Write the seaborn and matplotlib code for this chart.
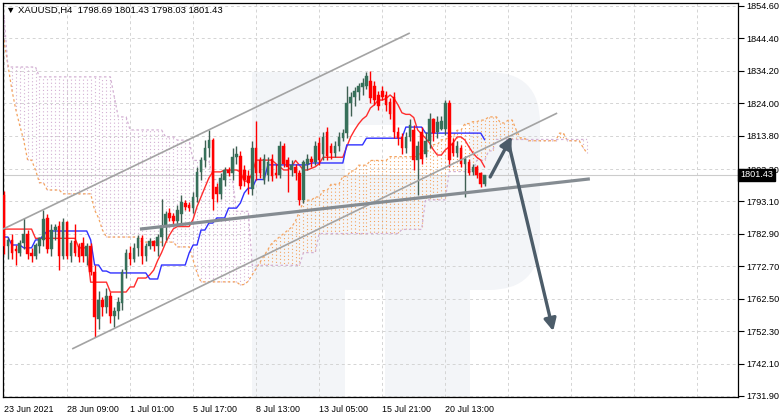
import numpy as np
import seaborn as sns
import matplotlib.pyplot as plt
from matplotlib.patches import Rectangle, FancyBboxPatch
from matplotlib.transforms import blended_transform_factory

sns.set_theme(style="white")
plt.rcParams['font.family'] = ['Liberation Sans', 'DejaVu Sans']

# XAUUSD H4 candles (open, high, low, close)
opens = [1795.0, 1779.0, 1781.0, 1778.0, 1777.0, 1780.0, 1783.0, 1777.0, 1776.0, 1779.0,
         1781.0, 1788.0, 1778.0, 1784.0, 1785.5, 1776.0, 1786.5, 1776.0, 1780.5, 1779.0,
         1780.0, 1776.0, 1779.0, 1771.0, 1756.0, 1762.0, 1760.0, 1763.5, 1757.0, 1758.5,
         1761.0, 1771.5, 1777.0, 1775.0, 1778.5, 1781.5, 1776.0, 1779.0, 1780.5, 1779.0,
         1782.0, 1785.0, 1789.5, 1788.5, 1787.0, 1789.0, 1792.5, 1792.0, 1791.0, 1794.5,
         1802.5, 1806.0, 1810.0, 1812.5, 1797.5, 1795.5, 1800.0, 1803.0, 1802.0, 1807.0,
         1807.5, 1803.0, 1801.0, 1797.0, 1810.0, 1806.0, 1800.0, 1801.5, 1806.5, 1802.0,
         1801.5, 1810.5, 1806.0, 1803.0, 1804.0, 1802.0, 1793.5, 1805.0, 1806.5, 1805.5,
         1811.5, 1808.0, 1815.0, 1810.5, 1808.5, 1810.5, 1813.0, 1814.5, 1824.0, 1826.0,
         1827.5, 1829.0, 1829.5, 1831.0, 1829.5, 1826.5, 1828.0, 1826.5, 1824.5, 1826.0,
         1815.0, 1813.5, 1810.0, 1813.5, 1815.5, 1806.0, 1815.0, 1808.0, 1812.0, 1819.0,
         1815.0, 1816.0, 1816.0, 1824.0, 1811.5, 1808.5, 1810.0, 1805.0, 1805.5, 1802.5,
         1803.8, 1802.0, 1798.69]
highs = [1796.5, 1782.0, 1783.0, 1779.5, 1781.0, 1788.0, 1784.0, 1778.5, 1780.0, 1782.0,
         1790.5, 1789.0, 1786.0, 1786.0, 1787.0, 1788.0, 1787.0, 1781.0, 1786.0, 1780.0,
         1782.0, 1780.0, 1780.0, 1773.0, 1765.0, 1763.0, 1766.0, 1764.5, 1760.0, 1763.0,
         1772.0, 1778.0, 1779.0, 1780.0, 1782.5, 1782.5, 1780.0, 1781.5, 1781.0, 1783.0,
         1794.0, 1790.0, 1791.0, 1789.5, 1792.0, 1795.0, 1793.5, 1793.0, 1796.0, 1804.0,
         1807.0, 1812.5, 1815.5, 1813.0, 1799.0, 1802.0, 1804.0, 1804.0, 1810.0, 1810.5,
         1809.0, 1804.5, 1803.0, 1812.0, 1818.5, 1807.0, 1808.0, 1807.0, 1808.0, 1805.0,
         1812.0, 1811.5, 1807.0, 1806.0, 1805.0, 1803.0, 1806.0, 1808.0, 1807.5, 1812.0,
         1813.5, 1815.0, 1816.5, 1811.5, 1812.0, 1815.0, 1816.0, 1829.5, 1827.5, 1829.0,
         1830.5, 1832.0, 1833.8, 1834.0, 1831.0, 1828.0, 1829.5, 1828.0, 1825.5, 1827.5,
         1816.5, 1814.5, 1815.0, 1819.0, 1817.0, 1812.0, 1816.5, 1815.0, 1821.0, 1819.5,
         1820.0, 1820.0, 1825.0, 1825.0, 1813.0, 1812.0, 1811.0, 1807.5, 1806.5, 1805.0,
         1804.5, 1802.5, 1801.43]
lows = [1776.5, 1775.0, 1775.0, 1773.0, 1776.0, 1778.0, 1775.0, 1774.0, 1775.0, 1777.0,
        1779.0, 1777.0, 1776.0, 1781.0, 1771.5, 1775.0, 1775.0, 1774.0, 1776.0, 1774.0,
        1774.0, 1773.0, 1770.0, 1750.4, 1753.0, 1757.0, 1758.0, 1755.0, 1753.6, 1756.0,
        1759.0, 1769.0, 1773.0, 1774.0, 1776.0, 1773.5, 1774.5, 1778.0, 1777.5, 1776.0,
        1779.0, 1781.0, 1787.0, 1786.0, 1785.5, 1786.0, 1790.5, 1790.0, 1789.5, 1793.0,
        1800.0, 1804.0, 1807.0, 1790.5, 1793.0, 1794.0, 1798.0, 1801.0, 1800.0, 1805.0,
        1797.0, 1798.0, 1795.5, 1795.0, 1800.0, 1800.5, 1798.5, 1799.5, 1799.5, 1800.5,
        1800.5, 1804.0, 1796.0, 1801.0, 1800.0, 1792.0, 1792.5, 1803.0, 1804.0, 1804.5,
        1804.5, 1806.0, 1806.0, 1806.5, 1807.0, 1809.0, 1812.0, 1813.0, 1820.0, 1823.0,
        1825.0, 1826.5, 1828.5, 1824.0, 1823.5, 1822.0, 1825.0, 1821.5, 1819.0, 1813.0,
        1811.0, 1808.0, 1808.5, 1812.0, 1803.0, 1795.0, 1805.0, 1807.0, 1810.0, 1812.0,
        1813.0, 1815.5, 1814.0, 1804.0, 1807.5, 1807.0, 1804.0, 1794.5, 1801.5, 1801.5,
        1800.5, 1797.5, 1798.03]
closes = [1779.0, 1781.0, 1777.0, 1777.5, 1780.0, 1783.0, 1776.5, 1776.0, 1779.5, 1781.5,
          1787.5, 1778.0, 1784.0, 1785.0, 1776.0, 1786.5, 1776.0, 1780.0, 1777.0, 1775.5,
          1776.0, 1779.0, 1771.0, 1756.7, 1762.0, 1760.0, 1763.5, 1757.0, 1758.5, 1761.5,
          1771.0, 1777.0, 1775.0, 1778.5, 1781.5, 1776.0, 1779.0, 1780.5, 1779.0, 1782.0,
          1785.5, 1789.0, 1788.0, 1787.0, 1790.5, 1793.0, 1791.5, 1791.0, 1794.5, 1802.5,
          1806.0, 1810.0, 1812.5, 1794.0, 1795.5, 1800.5, 1803.0, 1802.0, 1807.0, 1808.0,
          1798.0, 1800.0, 1799.0, 1810.0, 1802.0, 1802.0, 1806.5, 1805.5, 1801.0, 1801.5,
          1810.5, 1805.0, 1804.0, 1804.5, 1802.0, 1793.5, 1805.5, 1806.5, 1805.5, 1810.5,
          1806.0, 1813.5, 1807.5, 1808.5, 1810.5, 1813.5, 1814.5, 1824.0, 1826.0, 1828.0,
          1829.5, 1830.5, 1832.5, 1825.5, 1825.0, 1823.0, 1826.0, 1823.5, 1820.5, 1815.0,
          1813.0, 1810.0, 1813.5, 1817.0, 1806.0, 1810.5, 1806.5, 1812.0, 1819.0, 1814.5,
          1818.0, 1818.5, 1824.0, 1806.0, 1808.5, 1810.5, 1805.0, 1806.5, 1802.0, 1803.8,
          1801.5, 1798.5, 1801.43]

# Ichimoku lines, stored as (level, number of bars) runs
tenkan_runs = [(1784.4, 8), (1781.5, 11), (1778.5, 3), (1767.7, 5), (1764.6, 5), (1766.2, 2),
               (1769.0, 3), (1770.0, 1), (1771.5, 1), (1774.5, 1), (1777.0, 1), (1780.0, 1),
               (1782.5, 1), (1784.5, 1), (1785.2, 4), (1787.5, 1), (1791.5, 1), (1794.5, 1),
               (1797.5, 1), (1800.5, 1), (1802.4, 3), (1803.0, 4), (1802.4, 1), (1799.5, 2),
               (1802.0, 1), (1806.1, 5), (1805.0, 1), (1804.0, 1), (1803.0, 2), (1804.0, 1),
               (1806.0, 1), (1804.5, 1), (1803.0, 2), (1803.5, 1), (1804.0, 1), (1805.0, 1),
               (1807.0, 6), (1810.3, 1), (1813.4, 1), (1815.6, 1), (1817.5, 1), (1819.0, 1),
               (1820.0, 1), (1822.5, 1), (1823.5, 1), (1825.0, 2), (1825.5, 1), (1826.6, 1),
               (1825.5, 1), (1823.5, 1), (1821.0, 1), (1820.5, 2), (1819.5, 1), (1815.6, 1),
               (1814.3, 1), (1813.0, 1), (1811.5, 1), (1809.3, 1), (1807.7, 2), (1809.3, 1),
               (1810.3, 1), (1811.5, 1), (1813.4, 2), (1812.4, 1), (1810.3, 1), (1808.4, 1),
               (1807.0, 1), (1806.1, 1), (1803.9, 1)]
kijun_runs = [(1781.9, 2), (1779.4, 3), (1778.5, 3), (1781.0, 2), (1782.5, 1), (1783.8, 11),
              (1781.0, 1), (1773.1, 2), (1771.2, 2), (1770.6, 10), (1768.7, 3), (1773.1, 7),
              (1776.9, 1), (1779.4, 2), (1784.1, 2), (1786.3, 2), (1787.9, 3), (1791.0, 3),
              (1792.6, 1), (1795.8, 1), (1797.3, 2), (1800.0, 3), (1804.6, 11), (1805.2, 9),
              (1810.9, 5), (1813.0, 10), (1816.5, 5), (1814.6, 15), (1812.5, 1)]
span_a_runs = [(1843.9, 1), (1836.0, 1), (1828.2, 1), (1822.0, 1), (1817.0, 1), (1812.4, 1),
               (1806.1, 2), (1803.0, 1), (1799.0, 2), (1796.7, 4), (1795.5, 8), (1790.4, 1),
               (1787.9, 1), (1784.1, 1), (1781.9, 9), (1780.3, 9), (1778.8, 4), (1774.7, 1),
               (1770.6, 1), (1767.8, 10), (1766.8, 1), (1767.0, 1), (1768.0, 1), (1770.0, 1),
               (1772.0, 1), (1774.0, 1), (1776.0, 1), (1778.0, 1), (1780.0, 1), (1781.0, 1),
               (1782.0, 1), (1783.0, 1), (1784.0, 1), (1785.0, 1), (1787.0, 1), (1790.0, 1),
               (1793.0, 1), (1793.5, 2), (1794.5, 2), (1796.5, 2), (1798.5, 3), (1801.0, 2),
               (1802.7, 2), (1804.5, 3), (1806.0, 5), (1807.2, 8), (1809.0, 3), (1811.0, 2),
               (1812.5, 2), (1813.5, 2), (1815.5, 2), (1817.6, 2), (1818.2, 2), (1818.7, 2),
               (1819.7, 3), (1817.8, 2), (1818.7, 2), (1815.6, 1), (1813.1, 2), (1812.2, 8),
               (1814.6, 2), (1812.2, 4), (1810.0, 1), (1808.3, 1)]
span_b_runs = [(1851.8, 1), (1835.4, 8), (1832.3, 19), (1826.0, 1), (1819.7, 3), (1815.6, 9),
               (1813.4, 3), (1812.4, 4), (1806.0, 5), (1800.0, 6), (1790.0, 4), (1773.0, 13),
               (1777.0, 4), (1783.0, 21), (1784.3, 6), (1793.6, 6), (1802.5, 7), (1806.0, 3),
               (1809.0, 2), (1812.6, 24)]

date_labels = ['23 Jun 2021', '28 Jun 09:00', '1 Jul 01:00', '5 Jul 17:00',
               '8 Jul 13:00', '13 Jul 05:00', '15 Jul 21:00', '20 Jul 13:00']
price_ticks = [1731.90, 1742.10, 1752.30, 1762.50, 1772.70, 1782.90, 1793.10,
               1803.30, 1813.80, 1824.00, 1834.20, 1844.40, 1854.60]
last_price = 1801.43

# analyst drawings (bar index, price)
channel_top = [(-0.25, 1784.4), (103.0, 1846.1)]
channel_bottom = [(17.3, 1746.7), (140.4, 1820.9)]
support_line = [(34.5, 1784.4), (148.7, 1800.2)]
arrow_up = [(123.4, 1800.8), (128.9, 1813.6)]
arrow_down = [(128.0, 1811.8), (139.4, 1752.3)]


def expand(runs):
    return np.concatenate([np.full(n, v) for v, n in runs])


o, h, l, c = map(np.array, (opens, highs, lows, closes))
tenkan = expand(tenkan_runs)
kijun = expand(kijun_runs)
span_a = expand(span_a_runs)
span_b = expand(span_b_runs)
bars = np.arange(len(c))
cloud_x = np.arange(len(span_a))

fig = plt.figure(figsize=(7.82, 4.18), dpi=100)
ax = fig.add_axes([3 / 782, 21 / 418, 735 / 782, 394 / 418])
ax.set_xlim(-0.25, 186.3)
ax.set_ylim(1731.57, 1855.54)
ax.set_axisbelow(True)


# faint broker logo in the background (pixel boxes -> axes fraction)
def px_box(x0, y0, x1, y1):
    return (x0 - 3) / 735, (397 - y1) / 394, (x1 - x0) / 735, (y1 - y0) / 394


wm = '#f3f5f8'
bx, by, bw, bh = px_box(300, 72, 540, 290)
ax.add_patch(FancyBboxPatch((bx, by), bw, bh, boxstyle='round,pad=0,rounding_size=0.07',
                            transform=ax.transAxes, fc=wm, ec='none', zorder=0.1,
                            mutation_aspect=735 / 394))
for box in [px_box(252, 72, 345, 397), px_box(385, 240, 470, 397)]:
    ax.add_patch(Rectangle(box[:2], box[2], box[3], transform=ax.transAxes,
                           fc=wm, ec='none', zorder=0.1))
hx, hy, hw, hh = px_box(345, 125, 470, 175)
ax.add_patch(Rectangle((hx, hy), hw, hh, transform=ax.transAxes, fc='white', ec='none',
                       zorder=0.2))

# grid + current price line
ax.grid(True, color='#d4d4d4', linestyle=(0, (3, 3)), lw=0.7)
ax.axhline(last_price, color='#cccccc', lw=0.8, zorder=1)

# cloud: dotted vertical histogram between span A and span B
sandy, thistle = '#f4a460', '#d3b0d3'
cols = np.where(span_a >= span_b, sandy, thistle)
ax.vlines(cloud_x, span_a, span_b, colors=cols, lw=0.8, linestyles=(0, (1, 2.2)), zorder=2)
ax.plot(cloud_x, span_a, color=sandy, lw=0.9, ls=(0, (2, 2)), zorder=2)
ax.plot(cloud_x, span_b, color=thistle, lw=0.9, ls=(0, (2, 2)), zorder=2)

# tenkan / kijun
sns.lineplot(x=bars, y=tenkan, ax=ax, color='#ff2d2d', lw=1.0, zorder=4)
sns.lineplot(x=bars, y=kijun, ax=ax, color='#3030ff', lw=1.0, zorder=4)

# candles
up = c >= o
green, red = '#37705a', '#ff0000'
body_col = np.where(up, green, red)
wick_col = np.where(up, '#3f5f52', red)
ax.vlines(bars, l, h, colors=wick_col, lw=1.0, zorder=5)
ax.bar(bars, np.maximum(np.abs(c - o), 0.3), bottom=np.minimum(o, c), width=0.66,
       color=body_col, edgecolor=body_col, lw=0.3, zorder=6)

# drawings
for (x0, y0), (x1, y1) in [channel_top, channel_bottom]:
    ax.plot([x0, x1], [y0, y1], color='#a3a3a3', lw=1.2, zorder=7, solid_capstyle='butt')
(x0, y0), (x1, y1) = support_line
ax.plot([x0, x1], [y0, y1], color='#858c92', lw=2.3, zorder=7, solid_capstyle='butt')
for start, tip in [arrow_up, arrow_down]:
    ax.annotate('', xy=tip, xytext=start,
                arrowprops=dict(arrowstyle='-|>', mutation_scale=18, lw=2.4,
                                color='#4c5c69', shrinkA=0, shrinkB=0), zorder=8)

# axes
xt = np.arange(0, 187, 16)
ax.set_xticks(xt)
ax.set_xticklabels(date_labels + [''] * (len(xt) - len(date_labels)), ha='left')
ax.set_yticks(price_ticks)
ax.set_yticklabels([f'{v:.2f}' for v in price_ticks])
ax.yaxis.tick_right()
ax.tick_params(axis='both', direction='out', length=4, width=0.8, color='black',
               labelsize=6.6, labelcolor='black')
ax.tick_params(axis='x', pad=2, labelsize=6.4)
ax.tick_params(axis='y', pad=2)
ax.set_xlabel('')
ax.set_ylabel('')
for s in ax.spines.values():
    s.set_color('black')
    s.set_linewidth(0.9)

tr = blended_transform_factory(ax.transAxes, ax.transData)
ax.text(1.003, last_price, f'{last_price:.2f}', transform=tr, color='white', fontsize=6.6,
        va='center', ha='left', zorder=10,
        bbox=dict(boxstyle='square,pad=0.2', fc='black', ec='black'))

fig.text(6 / 782, 1 - 10 / 418, '\u25bc XAUUSD,H4  1798.69 1801.43 1798.03 1801.43',
         fontsize=6.8, va='center', ha='left', color='black')

fig.savefig('out.png', dpi=100)
